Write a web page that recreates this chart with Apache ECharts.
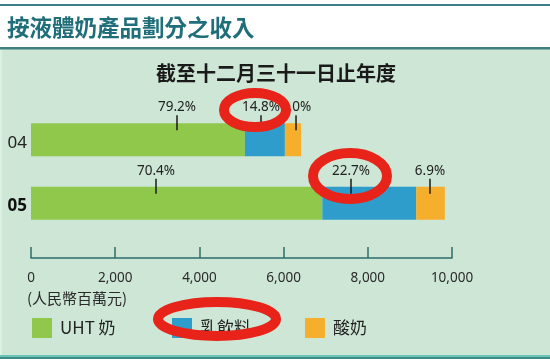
<!DOCTYPE html>
<html>
<head>
<meta charset="utf-8">
<script src="https://cdn.jsdelivr.net/npm/echarts@6/dist/echarts.min.js"></script>
<style>
html,body{margin:0;padding:0;background:#fff;}
#chart{width:550px;height:359px;}
</style>
</head>
<body>
<div id="chart"></div>
<script>
// ---- data ----
const categories = ['04', '05'];
const seriesNames = ['UHT 奶', '乳飲料', '酸奶'];
const uhtValues = [5080, 6920];
const drinkValues = [950, 2230];
const yogurtValues = [385, 680];
const xTicks = [0, 2000, 4000, 6000, 8000, 10000];
const pctLabels = ['79.2%', '14.8%', '6.0%', '70.4%', '22.7%', '6.9%'];
const pctAnchorX = [3468, 5463, 6295, 2969, 7601, 9477];
const pctCategory = [0, 0, 0, 1, 1, 1];

const titleText = '按液體奶產品劃分之收入';
const subtitleText = '截至十二月三十一日止年度';
const unitText = '(人民幣百萬元)';

const colors = ['#8fc84a', '#2f9dcc', '#f6ae2d'];
const CJK = '"Noto Sans CJK TC", "Noto Sans", sans-serif';
const NUM = '"Noto Sans", "Noto Sans CJK TC", sans-serif';
const BAR_W = 33;

const chart = echarts.init(document.getElementById('chart'), null, {renderer: 'canvas'});

const annotData = pctAnchorX.map((x, i) => [x, pctCategory[i]]);

function legendAt(name, left) {
  return {
    data: [name], left: left, top: 318, itemWidth: 20, itemHeight: 20,
    icon: 'rect', itemGap: 0, padding: 0,
    textStyle: {fontSize: 17, color: '#222', fontFamily: CJK, padding: [0, 0, 0, 3]},
    selectedMode: false
  };
}

const option = {
  animation: false,
  backgroundColor: '#ffffff',
  grid: {left: 31, right: 98, top: 108, height: 127},
  xAxis: {
    type: 'value', min: xTicks[0], max: xTicks[xTicks.length - 1], interval: 2000,
    offset: 23,
    axisLine: {show: true, lineStyle: {color: '#2c6e6a', width: 1.5}},
    axisTick: {show: true, inside: true, length: 11, lineStyle: {color: '#2c6e6a', width: 1.5}},
    splitLine: {show: false},
    axisLabel: {
      margin: 13, fontSize: 13.5, color: '#2a2a2a', fontFamily: NUM,
      formatter: v => v.toLocaleString('en-US')
    }
  },
  yAxis: {
    type: 'category', data: categories, inverse: true,
    axisLine: {show: false}, axisTick: {show: false},
    axisLabel: {
      margin: 4, fontFamily: NUM, color: '#222',
      formatter: (v, i) => i === 1 ? '{b|' + v + '}' : '{n|' + v + '}',
      rich: {
        n: {fontSize: 17, fontWeight: 'normal', color: '#222', fontFamily: NUM, padding: [6, 0, 0, 0]},
        b: {fontSize: 17, fontWeight: 'bold', color: '#111', fontFamily: NUM, padding: [6, 0, 0, 0]}
      }
    }
  },
  legend: [legendAt(seriesNames[0], 32), legendAt(seriesNames[1], 172), legendAt(seriesNames[2], 305)],
  series: [
    {name: seriesNames[0], type: 'bar', stack: 'total', data: uhtValues, barWidth: BAR_W, itemStyle: {color: colors[0]}},
    {name: seriesNames[1], type: 'bar', stack: 'total', data: drinkValues, barWidth: BAR_W, itemStyle: {color: colors[1]}},
    {name: seriesNames[2], type: 'bar', stack: 'total', data: yogurtValues, barWidth: BAR_W, itemStyle: {color: colors[2]}},
    {
      type: 'custom', z: 5, data: annotData,
      renderItem: function (params, api) {
        const p = api.coord([api.value(0), api.value(1)]);
        const top = p[1] - BAR_W / 2;
        return {
          type: 'group',
          children: [
            {type: 'line', shape: {x1: p[0], y1: top - 8, x2: p[0], y2: top + 7},
              style: {stroke: '#1a1a1a', lineWidth: 1.5}},
            {type: 'text', style: {text: pctLabels[params.dataIndex], x: p[0], y: top - 16,
              align: 'center', verticalAlign: 'middle', font: '13.5px ' + NUM, fill: '#222'}}
          ]
        };
      }
    }
  ],
  graphic: [
    {type: 'rect', z: -10, shape: {x: 0, y: 49, width: 550, height: 310}, style: {fill: '#cde6d5'}},
    {type: 'rect', z: -9, shape: {x: 0, y: 49, width: 2, height: 310}, style: {fill: '#dcefe3'}},
    {type: 'rect', z: -9, shape: {x: 0, y: 4, width: 550, height: 2}, style: {fill: '#3f7f86'}},
    {type: 'rect', z: -9, shape: {x: 0, y: 47, width: 550, height: 2.5}, style: {fill: '#3f7f80'}},
    {type: 'rect', z: -9, shape: {x: 0, y: 355, width: 550, height: 2}, style: {fill: '#6cc3b8'}},
    {type: 'rect', z: -9, shape: {x: 0, y: 357, width: 550, height: 2}, style: {fill: '#3f8c86'}},
    {type: 'text', z: 10, style: {text: titleText, x: 7, y: 27, verticalAlign: 'middle',
      font: 'bold 22.5px ' + CJK, fill: '#1f6e79'}},
    {type: 'text', z: 10, style: {text: subtitleText, x: 276, y: 73, align: 'center', verticalAlign: 'middle',
      font: 'bold 20px ' + CJK, fill: '#1a1a1a'}},
    {type: 'text', z: 10, style: {text: unitText, x: 27, y: 298, verticalAlign: 'middle',
      font: '15px ' + CJK, fill: '#2a2a2a'}},
    {type: 'ellipse', z: 100, shape: {cx: 255, cy: 110, rx: 31, ry: 17},
      style: {fill: 'rgba(0,0,0,0)', stroke: '#e8231a', lineWidth: 10}},
    {type: 'ellipse', z: 100, shape: {cx: 350, cy: 176, rx: 37, ry: 23},
      style: {fill: 'rgba(0,0,0,0)', stroke: '#e8231a', lineWidth: 10}},
    {type: 'ellipse', z: 100, shape: {cx: 217, cy: 319, rx: 59, ry: 17},
      style: {fill: 'rgba(0,0,0,0)', stroke: '#e8231a', lineWidth: 10}}
  ]
};

chart.setOption(option);
</script>
</body>
</html>
